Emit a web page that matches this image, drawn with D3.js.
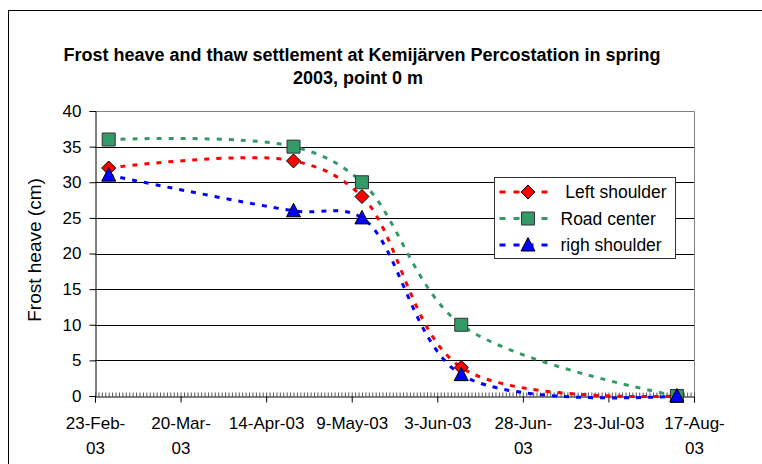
<!DOCTYPE html>
<html>
<head>
<meta charset="utf-8">
<script src="https://cdn.jsdelivr.net/npm/d3@7"></script>
<style>
  html, body { margin: 0; padding: 0; background: #fff; }
  svg { display: block; font-family: "Liberation Sans", Arial, sans-serif; }
</style>
</head>
<body>
<svg id="chart" width="762" height="464"></svg>
<script>
const dates = ["2003-02-27", "2003-04-22", "2003-05-12", "2003-06-10", "2003-08-12"];

// Series names and values (cm)
const seriesNames = [" Left shoulder", "Road center", "righ shoulder"];
const leftShoulder = [32, 33, 28, 4, 0];
const roadCenter = [36, 35, 30, 10, 0];
const rightShoulder = [31, 26, 25, 3, 0];

// Axis ticks
const xTickDates = ["2003-02-23", "2003-03-20", "2003-04-14", "2003-05-09",
                    "2003-06-03", "2003-06-28", "2003-07-23", "2003-08-17"];
const xTickLabels = [["23-Feb-", "03"], ["20-Mar-", "03"], ["14-Apr-03"], ["9-May-03"],
                     ["3-Jun-03"], ["28-Jun-", "03"], ["23-Jul-03"], ["17-Aug-", "03"]];
const yTicks = [0, 5, 10, 15, 20, 25, 30, 35, 40];

const parse = d3.timeParse("%Y-%m-%d");

const svg = d3.select("#chart");

// outer chart frame (runs off the right/bottom edge)
svg.append("rect")
  .attr("x", 8.5).attr("y", 10.5)
  .attr("width", 800).attr("height", 500)
  .attr("fill", "none").attr("stroke", "#000");

const margin = { left: 95, right: 694, top: 111, bottom: 396 };

const x = d3.scaleTime()
  .domain([parse(xTickDates[0]), parse(xTickDates[xTickDates.length - 1])])
  .range([margin.left, margin.right]);

const y = d3.scaleLinear()
  .domain([0, 40])
  .range([margin.bottom, margin.top]);

// title
const title = svg.append("text")
  .attr("text-anchor", "middle")
  .attr("font-size", "18px")
  .attr("font-weight", "bold")
  .attr("fill", "#000");
title.append("tspan").attr("x", 362).attr("y", 61)
  .text("Frost heave and thaw settlement at Kemijärven Percostation in spring");
title.append("tspan").attr("x", 358).attr("y", 84)
  .text("2003, point 0 m");

// gridlines
svg.append("g")
  .selectAll("line")
  .data(yTicks.filter(d => d > 0 && d < 40))
  .enter()
  .append("line")
  .attr("x1", margin.left).attr("x2", margin.right)
  .attr("y1", d => Math.round(y(d)) + 0.5).attr("y2", d => Math.round(y(d)) + 0.5)
  .attr("stroke", "#000").attr("stroke-width", 1);

// plot area border (top & right in gray)
svg.append("path")
  .attr("d", `M${margin.left},${margin.top + 0.5}H${margin.right + 0.5}V${margin.bottom}`)
  .attr("fill", "none").attr("stroke", "#808080").attr("stroke-width", 1);

// y axis
const yAxis = svg.append("g")
  .attr("transform", `translate(${margin.left + 0.5},0)`)
  .call(d3.axisLeft(y).tickValues(yTicks).tickSize(6).tickPadding(8).tickFormat(d3.format("d")));
yAxis.select(".domain").attr("stroke", "#000");
yAxis.selectAll("text").attr("font-size", "17px").attr("fill", "#000")
  .attr("font-family", "Liberation Sans, Arial, sans-serif");

// minor (daily) ticks on the x axis, inside
const minorAxis = svg.append("g")
  .attr("transform", `translate(0,${margin.bottom + 0.5})`)
  .call(d3.axisBottom(x).ticks(d3.timeDay.every(1)).tickSize(-4).tickFormat(""));
minorAxis.select(".domain").remove();
minorAxis.selectAll("line").attr("stroke", "#555");

// major x axis
const xAxis = svg.append("g")
  .attr("transform", `translate(0,${margin.bottom + 0.5})`)
  .call(d3.axisBottom(x).tickValues(xTickDates.map(parse)).tickSize(6).tickFormat(""));
xAxis.select(".domain").attr("stroke", "#000");

xAxis.selectAll(".tick")
  .append("text")
  .attr("text-anchor", "middle")
  .attr("font-size", "17px")
  .attr("fill", "#000")
  .attr("font-family", "Liberation Sans, Arial, sans-serif")
  .each(function(d, i) {
    const t = d3.select(this);
    xTickLabels[i].forEach((line, j) => {
      t.append("tspan").attr("x", 0).attr("y", 32 + j * 25).text(line);
    });
  });

// y axis title
svg.append("text")
  .attr("transform", "translate(41,250) rotate(-90)")
  .attr("text-anchor", "middle")
  .attr("font-size", "19px")
  .attr("fill", "#000")
  .text("Frost heave (cm)");

// series
const series = [
  { name: seriesNames[0], values: leftShoulder, color: "#ff0000", marker: "diamond" },
  { name: seriesNames[1], values: roadCenter, color: "#339966", marker: "square" },
  { name: seriesNames[2], values: rightShoulder, color: "#0000ff", marker: "triangle" }
];

const markerPath = {
  diamond: "M0,-7L7,0L0,7L-7,0Z",
  square: "M-6.5,-6.5H6.5V6.5H-6.5Z",
  triangle: "M0,-7.5L7,6L-7,6Z"
};
const markerStroke = { diamond: "#000", square: "#333", triangle: "#000" };

const line = d3.line()
  .x(d => x(d.date))
  .y(d => y(d.value))
  .curve(d3.curveCatmullRom.alpha(0.5));

const dashes = "5,7";

// draw lines first, then markers on top
series.forEach(s => {
  const pts = s.values.map((v, i) => ({ date: parse(dates[i]), value: v }));
  svg.append("path")
    .datum(pts)
    .attr("d", line)
    .attr("fill", "none")
    .attr("stroke", s.color)
    .attr("stroke-width", 3)
    .attr("stroke-dasharray", dashes);
});

series.forEach(s => {
  const pts = s.values.map((v, i) => ({ date: parse(dates[i]), value: v }));
  svg.append("g")
    .selectAll("path")
    .data(pts)
    .enter()
    .append("path")
    .attr("transform", d => `translate(${x(d.date)},${y(d.value)})`)
    .attr("d", markerPath[s.marker])
    .attr("fill", s.color)
    .attr("stroke", markerStroke[s.marker])
    .attr("stroke-width", 1);
});

// legend
const legend = svg.append("g").attr("transform", "translate(494.5,177.5)");
legend.append("rect")
  .attr("width", 181).attr("height", 81)
  .attr("fill", "#fff").attr("stroke", "#333");

const legendItems = legend.selectAll(".legend-item")
  .data(series)
  .enter()
  .append("g")
  .attr("class", "legend-item")
  .attr("transform", (d, i) => `translate(0,${14.5 + i * 26.5})`);

legendItems.append("line")
  .attr("x1", 5).attr("x2", 58)
  .attr("stroke", d => d.color)
  .attr("stroke-width", 3)
  .attr("stroke-dasharray", "6,8");

legendItems.append("path")
  .attr("transform", "translate(33.5,0)")
  .attr("d", d => markerPath[d.marker])
  .attr("fill", d => d.color)
  .attr("stroke", d => markerStroke[d.marker]);

legendItems.append("text")
  .attr("x", 66)
  .attr("y", 6)
  .attr("font-size", "17.5px")
  .attr("fill", "#000")
  .style("white-space", "pre")
  .text(d => d.name);
</script>
</body>
</html>
